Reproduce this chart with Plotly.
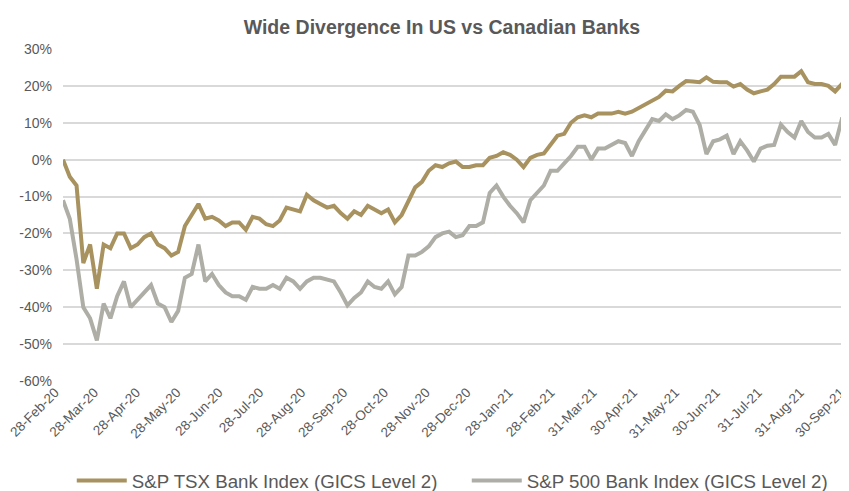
import pandas as pd
import plotly.graph_objects as go

# Sampling dates (every 5 days from 28-Feb-20 to 30-Sep-21)
dates = pd.date_range("2020-02-28", "2021-09-30", freq="5D")

tsx_bank = [
    0, -4.6, -7, -28, -23, -35, -23, -24, -20, -20,
    -24, -23, -21, -20, -23, -24, -26, -25, -18, -15,
    -12, -16, -15.5, -16.5, -18, -17, -17, -19, -15.5, -16,
    -17.5, -18, -16.5, -13, -13.5, -14, -9.5, -11, -12, -13,
    -12.5, -14.5, -16, -14, -15, -12.5, -13.5, -14.5, -13.5, -17,
    -15, -11, -7.5, -6, -3, -1.5, -2, -1, -0.5, -2,
    -2, -1.5, -1.5, 0.5, 1, 2, 1.3, 0, -2, 0.5,
    1.3, 1.7, 4, 6.5, 7, 10, 11.5, 12, 11.5, 12.5,
    12.5, 12.5, 13, 12.5, 13, 14, 15, 16.2, 17, 18.7,
    18.5, 20, 21.3, 21.2, 21, 22.3, 21.1, 21, 21, 19.8,
    20.5, 19, 18, 18.5, 19, 20.5, 22.5, 22.5, 22.5, 24,
    21, 20.5, 20.5, 20, 18.5, 20.5, 19.5,
]

sp500_bank = [
    -11, -16, -27, -40, -43, -49, -39, -43, -37, -33,
    -40, -38, -36, -34, -39, -40, -44, -41, -32, -31,
    -23, -33, -31, -34, -36, -37, -37, -38, -34.5, -35,
    -35, -34, -35, -32, -33, -35, -33, -32, -32, -32.5,
    -33, -36, -39.5, -37.5, -36, -33, -34.5, -35, -33, -36.5,
    -34.5, -26, -26, -25, -23.5, -21, -20, -19.5, -21, -20.5,
    -18, -18, -17, -9, -7, -10, -12.5, -14.5, -17, -11,
    -9, -7, -3, -3, -1, 1, 3.5, 3.5, 0, 3,
    3, 4, 5, 4.5, 1, 5, 7.8, 11, 10.5, 12.3,
    11, 12, 13.5, 13, 9.4, 1.5, 5, 5.5, 6.5, 1.5,
    5, 2.5, -0.5, 3, 3.8, 4, 9.5, 7.5, 6, 10.5,
    7.5, 6, 6, 7, 4, 11, 11,
]

tick_dates = [
    "2020-02-28", "2020-03-28", "2020-04-28", "2020-05-28", "2020-06-28",
    "2020-07-28", "2020-08-28", "2020-09-28", "2020-10-28", "2020-11-28",
    "2020-12-28", "2021-01-28", "2021-02-28", "2021-03-31", "2021-04-30",
    "2021-05-31", "2021-06-30", "2021-07-31", "2021-08-31", "2021-09-30",
]
tick_labels = [
    "28-Feb-20", "28-Mar-20", "28-Apr-20", "28-May-20", "28-Jun-20",
    "28-Jul-20", "28-Aug-20", "28-Sep-20", "28-Oct-20", "28-Nov-20",
    "28-Dec-20", "28-Jan-21", "28-Feb-21", "31-Mar-21", "30-Apr-21",
    "31-May-21", "30-Jun-21", "31-Jul-21", "31-Aug-21", "30-Sep-21",
]
y_ticks = [30, 20, 10, 0, -10, -20, -30, -40, -50, -60]
y_labels = [f"{v}%" for v in y_ticks]

GOLD = "#A8925F"
GRAY = "#AEAEA6"
TEXT = "#595959"
FONT = "Liberation Sans, Arial, sans-serif"

fig = go.Figure()
fig.add_trace(go.Scatter(x=dates, y=tsx_bank, mode="lines",
                         name="S&P TSX Bank Index (GICS Level 2)",
                         line=dict(color=GOLD, width=4)))
fig.add_trace(go.Scatter(x=dates, y=sp500_bank, mode="lines",
                         name="S&P 500 Bank Index (GICS Level 2)",
                         line=dict(color=GRAY, width=4)))

# the page body adds an 8px offset, so the figure is sized to the visible area
fig.update_layout(
    width=841, height=483,
    margin=dict(l=55, r=0, t=41, b=110, autoexpand=False),
    paper_bgcolor="white", plot_bgcolor="white",
    font=dict(family=FONT, color=TEXT, size=14),
    title=dict(text="<b>Wide Divergence In US vs Canadian Banks</b>",
               xref="container", x=0.516, xanchor="center",
               yref="container", y=0.961, yanchor="middle",
               font=dict(family=FONT, size=19.5, color=TEXT)),
    showlegend=True,
    legend=dict(orientation="h", xref="container", x=0.5455, xanchor="center",
                yref="container", y=0.021, yanchor="middle",
                font=dict(family=FONT, size=18.7, color=TEXT),
                itemwidth=50, entrywidth=330, entrywidthmode="pixels"),
)
fig.update_xaxes(
    range=["2020-02-28", "2021-09-30 06:00"],
    tickmode="array", tickvals=tick_dates, ticktext=tick_labels,
    tickangle=-45, showgrid=False, showline=False, zeroline=False,
    ticks="", automargin=False, ticklabeloverflow="allow", ticklabelshift=-8,
    tickfont=dict(family=FONT, size=13.5, color=TEXT),
)
fig.update_yaxes(
    range=[-60, 30], tickmode="array", tickvals=y_ticks, ticktext=y_labels,
    showgrid=True, gridcolor="#D9D9D9", gridwidth=1.5, zeroline=False,
    showline=False, ticks="", ticklabelstandoff=10, automargin=False,
    tickfont=dict(family=FONT, size=14, color=TEXT),
)

fig.write_html("out.html")
